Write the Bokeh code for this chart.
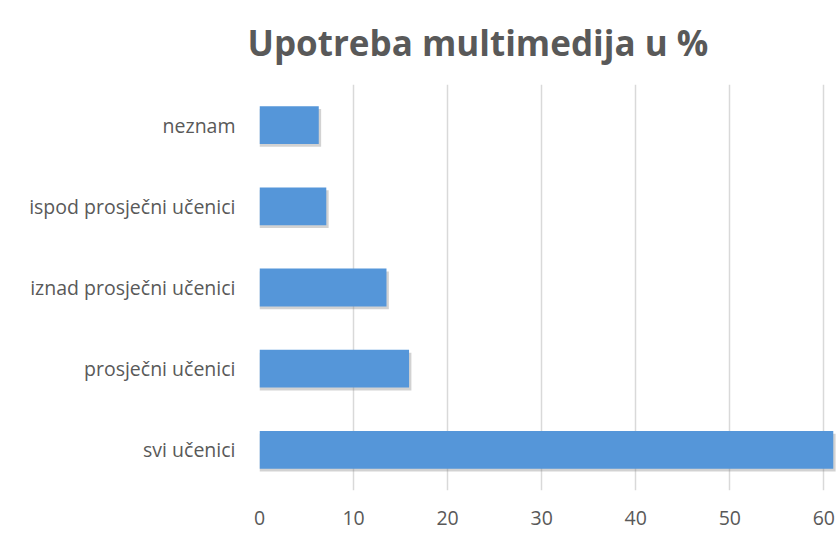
from bokeh.plotting import figure
from bokeh.models import ColumnDataSource, Range1d, FactorRange, FixedTicker
from bokeh.transform import dodge
from bokeh.embed import file_html
from bokeh.resources import INLINE

title_text = "Upotreba multimedija u %"
categories = ["svi učenici", "prosječni učenici", "iznad prosječni učenici",
              "ispod prosječni učenici", "neznam"]
values = [61.0, 15.9, 13.5, 7.1, 6.3]
x_ticks = [0, 10, 20, 30, 40, 50, 60]

source = ColumnDataSource(data=dict(cat=categories, val=values,
                                    shadow=[v + 0.25 for v in values]))

p = figure(width=837, height=533, output_backend="svg", toolbar_location=None,
           y_range=FactorRange(factors=categories, range_padding=0),
           x_range=Range1d(0, 61.45),
           min_border_left=259, min_border_right=0, min_border_top=84,
           min_border_bottom=43)

p.title.text = title_text
p.title.text_font = "Open Sans"
p.title.text_font_style = "bold"
p.title.text_font_size = "35px"
p.title.text_color = "#595959"
p.title.align = "left"
p.title.vertical_align = "top"
p.title.offset = -12
p.title.standoff = 34

p.outline_line_color = None
p.background_fill_color = "white"
p.border_fill_color = "white"

# shadow
p.hbar(y=dodge("cat", -0.035, range=p.y_range), left=0, right="shadow",
       height=0.465, source=source, fill_color="#7f7f7f", fill_alpha=0.35,
       line_color=None)
p.hbar(y="cat", left=0, right="val", height=0.465, source=source,
       fill_color="#5596d9", line_color=None)

p.xaxis.ticker = FixedTicker(ticks=x_ticks)
p.xaxis.axis_line_color = None
p.xaxis.major_tick_line_color = None
p.xaxis.minor_tick_line_color = None
p.xaxis.major_tick_out = 0
p.xaxis.major_label_standoff = 20
p.xaxis.major_label_text_font = "Open Sans"
p.xaxis.major_label_text_font_size = "19.5px"
p.xaxis.major_label_text_color = "#595959"

p.yaxis.axis_line_color = None
p.yaxis.major_tick_line_color = None
p.yaxis.minor_tick_line_color = None
p.yaxis.major_tick_out = 0
p.yaxis.major_label_standoff = 24
p.yaxis.major_label_text_font = "Open Sans"
p.yaxis.major_label_text_font_size = "19.5px"
p.yaxis.major_label_text_color = "#595959"

p.xgrid.grid_line_color = "#d9d9d9"
p.xgrid.grid_line_width = 1.5
p.ygrid.grid_line_color = None

open("out.html", "w").write(file_html(p, INLINE))
